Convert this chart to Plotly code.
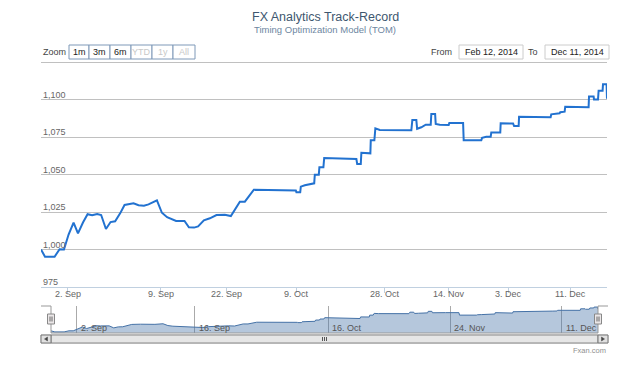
import plotly.graph_objects as go

# ---------------- data (ordinal session index, portfolio value) ----------------
session = [0.0, 2.0, 6.8, 9.3, 11.5, 13.8, 16.3, 18.5, 21.0, 23.3, 25.6, 28.1, 30.1,
           32.5, 34.8, 37.1, 39.6, 41.8, 46.3, 48.8, 51.5, 53.8, 58.0, 60.5, 63.1,
           65.3, 67.6, 71.8, 74.0, 76.6, 78.6, 81.5, 84.5, 87.8, 92.0, 95.0, 99.5,
           102.0, 106.5, 127.5, 127.8, 129.7, 130.0, 132.0, 134.5, 136.7, 137.0,
           139.0, 139.3, 141.3, 141.7, 157.8, 158.2, 160.0, 160.3, 162.5, 162.8,
           164.8, 165.0, 166.8, 167.3, 169.5, 185.3, 185.8, 187.8, 188.2, 190.3,
           192.5, 195.0, 195.3, 197.2, 197.5, 199.5, 204.0, 204.3, 211.2, 211.5,
           220.3, 220.7, 222.8, 225.0, 225.3, 229.8, 230.0, 236.2, 236.7, 239.0,
           239.2, 255.0, 255.3, 259.5, 259.8, 262.0, 262.3, 274.0, 274.2, 276.5,
           276.7, 278.7, 279.0, 281.0, 281.2, 283.0, 283.2]
value = [1000.0, 995.2, 995.2, 1000.2, 1000.0, 1010.0, 1017.9, 1010.8, 1018.0, 1023.5,
         1022.8, 1023.7, 1023.0, 1013.7, 1018.3, 1018.8, 1024.1, 1029.7, 1030.8,
         1029.5, 1029.2, 1030.1, 1032.8, 1024.5, 1021.5, 1020.3, 1019.0, 1019.0,
         1014.8, 1014.6, 1015.4, 1019.4, 1020.8, 1023.0, 1023.2, 1022.3, 1031.9,
         1031.9, 1039.9, 1039.4, 1038.1, 1038.1, 1041.9, 1042.8, 1043.7, 1044.1,
         1049.9, 1049.9, 1054.8, 1054.8, 1061.0, 1060.3, 1057.0, 1057.0, 1064.5,
         1064.5, 1064.1, 1064.1, 1072.8, 1072.8, 1080.8, 1079.7, 1079.5, 1086.3,
         1086.3, 1080.5, 1081.5, 1083.2, 1083.2, 1090.3, 1090.3, 1083.7, 1083.2,
         1083.0, 1084.3, 1084.3, 1072.8, 1072.8, 1074.4, 1075.2, 1075.2, 1078.0,
         1078.0, 1084.2, 1084.0, 1082.3, 1082.3, 1088.5, 1088.2, 1090.1, 1090.8,
         1091.5, 1091.9, 1095.1, 1094.9, 1102.0, 1102.0, 1100.0, 1100.0, 1105.9,
         1105.9, 1110.1, 1110.1, 1100.5]

x_tick_pos = [13.5, 60, 93, 128, 172, 204, 234, 265]
x_tick_text = ["2. Sep", "9. Sep", "22. Sep", "9. Oct", "28. Oct", "14. Nov", "3. Dec", "11. Dec"]
y_tick_vals = [975, 1000, 1025, 1050, 1075, 1100]
y_tick_text = ["975", "1,000", "1,025", "1,050", "1,075", "1,100"]
y_max = 1125
nav_tick_pos = [13.4, 74.4, 143.6, 206.6, 264.4]
nav_tick_text = ["2. Sep", "16. Sep", "16. Oct", "24. Nov", "11. Dec"]
zoom_buttons = ["1m", "3m", "6m", "YTD", "1y", "All"]
zoom_enabled = [True, True, True, False, False, False]
from_date = "Feb 12, 2014"
to_date = "Dec 11, 2014"

# ---------------- layout geometry ----------------
W, H = 625, 367
L, R, T, B = 41, 18, 62, 24
PW, PH = W - L - R, H - T - B
FONT = "Liberation Sans, Arial, sans-serif"


def px(x):
    return (x - L) / PW


def py(y):
    return (H - B - y) / PH


fig = go.Figure()
fig.add_trace(go.Scatter(x=session, y=value, mode="lines",
                         line=dict(color="#2272d0", width=2),
                         xaxis="x", yaxis="y", hoverinfo="skip", showlegend=False))
fig.add_trace(go.Scatter(x=session, y=value, mode="lines", fill="tozeroy",
                         fillcolor="rgba(69,114,167,0.4)",
                         line=dict(color="#4572A7", width=1),
                         xaxis="x2", yaxis="y2", hoverinfo="skip", showlegend=False))

xr = [0, 283.2]
fig.update_layout(
    width=W, height=H, margin=dict(l=L, r=R, t=T, b=B),
    paper_bgcolor="white", plot_bgcolor="white",
    font=dict(family=FONT, size=9, color="#666666"),
    xaxis=dict(domain=[0, 1], range=xr, anchor="y", tickvals=x_tick_pos,
               showticklabels=False, ticks="outside", ticklen=5, tickcolor="#C0D0E0",
               showline=True, linecolor="#C0D0E0", linewidth=1,
               showgrid=False, zeroline=False, fixedrange=True),
    yaxis=dict(domain=[py(287), 1], range=[975, y_max], tick0=975, dtick=25,
               showticklabels=False, showgrid=True, gridcolor="#C0C0C0", gridwidth=1,
               zeroline=False, anchor="x", fixedrange=True),
    xaxis2=dict(domain=[px(51), px(598)], range=xr, anchor="y2", tickvals=nav_tick_pos,
                showticklabels=False, ticks="", showgrid=True, gridcolor="#AAAAAA",
                zeroline=False, showline=False, fixedrange=True),
    yaxis2=dict(domain=[py(333), py(306)], range=[990, 1115], anchor="x2",
                showticklabels=False, showgrid=False, zeroline=False, fixedrange=True),
)

ann = []
# title / subtitle
ann.append(dict(text="FX Analytics Track-Record", x=px(325), y=py(17), xref="paper", yref="paper",
                showarrow=False, xanchor="center", yanchor="middle",
                font=dict(size=12.5, color="#3E576F", family=FONT)))
ann.append(dict(text="Timing Optimization Model (TOM)", x=px(325), y=py(30), xref="paper", yref="paper",
                showarrow=False, xanchor="center", yanchor="middle",
                font=dict(size=9.5, color="#6D869F", family=FONT)))
# y labels
for v, t in zip(y_tick_vals, y_tick_text):
    ann.append(dict(text=t, x=0, xshift=0, y=v, yshift=-2, xref="paper", yref="y",
                    showarrow=False, xanchor="left", yanchor="bottom",
                    font=dict(size=9, color="#666666")))
# x labels
for p, t in zip(x_tick_pos, x_tick_text):
    ann.append(dict(text=t, x=p, y=py(294), xref="x", yref="paper", showarrow=False,
                    xanchor="center", yanchor="middle", font=dict(size=9, color="#666666")))
# navigator labels
for p, t in zip(nav_tick_pos, nav_tick_text):
    ann.append(dict(text=t, x=p, xshift=2, y=py(328), xref="x2", yref="paper", showarrow=False,
                    xanchor="left", yanchor="middle", font=dict(size=9, color="#555555")))

shapes = []
# top gridline (last y tick, at the plot edge)
shapes.append(dict(type="line", xref="paper", yref="paper", x0=0, x1=1, y0=py(62.5), y1=py(62.5),
                   line=dict(color="#C0C0C0", width=1)))
# range selector
ann.append(dict(text="Zoom", x=px(41), y=py(52), xref="paper", yref="paper", showarrow=False,
                xanchor="left", yanchor="middle", font=dict(size=9, color="#444444")))
edges = [69, 89, 110, 131, 152, 173, 195]
for i, (lab, en) in enumerate(zip(zoom_buttons, zoom_enabled)):
    x0, x1 = edges[i], edges[i + 1]
    shapes.append(dict(type="rect", xref="paper", yref="paper", x0=px(x0), x1=px(x1),
                       y0=py(45), y1=py(59), line=dict(color="#7f99b8", width=1),
                       fillcolor="white"))
    ann.append(dict(text=lab, x=px((x0 + x1) / 2), y=py(52), xref="paper", yref="paper",
                    showarrow=False, xanchor="center", yanchor="middle",
                    font=dict(size=9, color="#222222" if en else "#C8C8C8")))
# from / to
ann.append(dict(text="From", x=px(454), y=py(52), xref="paper", yref="paper", showarrow=False,
                xanchor="right", yanchor="middle", font=dict(size=9, color="#444444")))
ann.append(dict(text="To", x=px(540), y=py(52), xref="paper", yref="paper", showarrow=False,
                xanchor="right", yanchor="middle", font=dict(size=9, color="#444444")))
for (x0, x1, t) in [(459, 523, from_date), (545, 609, to_date)]:
    shapes.append(dict(type="rect", xref="paper", yref="paper", x0=px(x0), x1=px(x1),
                       y0=py(45), y1=py(59), line=dict(color="#CCCCCC", width=1),
                       fillcolor="white"))
    ann.append(dict(text=t, x=px((x0 + x1) / 2), y=py(52), xref="paper", yref="paper",
                    showarrow=False, xanchor="center", yanchor="middle",
                    font=dict(size=9, color="#222222")))

# navigator outline
shapes.append(dict(type="path", xref="paper", yref="paper",
                   path=f"M {px(41)} {py(306)} L {px(51)} {py(306)} L {px(51)} {py(333)} "
                        f"L {px(598)} {py(333)} L {px(598)} {py(306)} L {px(608)} {py(306)}",
                   line=dict(color="#999999", width=1)))
# handles
for hx in (51, 598):
    shapes.append(dict(type="rect", xref="paper", yref="paper", x0=px(hx - 3.5), x1=px(hx + 3.5),
                       y0=py(314), y1=py(324), line=dict(color="#888888", width=1),
                       fillcolor="#EBE7E8"))
    for dx in (-1, 1):
        shapes.append(dict(type="line", xref="paper", yref="paper", x0=px(hx + dx), x1=px(hx + dx),
                           y0=py(316.5), y1=py(321.5), line=dict(color="#666666", width=1)))
# scrollbar
shapes.append(dict(type="rect", xref="paper", yref="paper", x0=px(41), x1=px(608),
                   y0=py(335), y1=py(343), line=dict(color="#CCCCCC", width=1), fillcolor="#F4F4F4"))
shapes.append(dict(type="rect", xref="paper", yref="paper", x0=px(51), x1=px(598),
                   y0=py(335), y1=py(343), line=dict(color="#888888", width=1), fillcolor="#E6E6E6"))
for bx0, bx1 in ((41, 51), (598, 608)):
    shapes.append(dict(type="rect", xref="paper", yref="paper", x0=px(bx0), x1=px(bx1),
                       y0=py(335), y1=py(343), line=dict(color="#777777", width=1), fillcolor="#E0E0E0"))
shapes.append(dict(type="path", xref="paper", yref="paper", fillcolor="#444444",
                   path=f"M {px(47.5)} {py(337)} L {px(44.5)} {py(339)} L {px(47.5)} {py(341)} Z",
                   line=dict(color="#444444", width=0.5)))
shapes.append(dict(type="path", xref="paper", yref="paper", fillcolor="#444444",
                   path=f"M {px(601.5)} {py(337)} L {px(604.5)} {py(339)} L {px(601.5)} {py(341)} Z",
                   line=dict(color="#444444", width=0.5)))
for gx in (322.5, 324.5, 326.5):
    shapes.append(dict(type="line", xref="paper", yref="paper", x0=px(gx), x1=px(gx),
                       y0=py(337), y1=py(341), line=dict(color="#555555", width=1)))

# credit
ann.append(dict(text="Fxan.com", x=px(608), y=py(350), xref="paper", yref="paper", showarrow=False,
                xanchor="right", yanchor="middle", font=dict(size=7.5, color="#909090")))

fig.update_layout(annotations=ann, shapes=shapes)
fig.write_html("out.html")
